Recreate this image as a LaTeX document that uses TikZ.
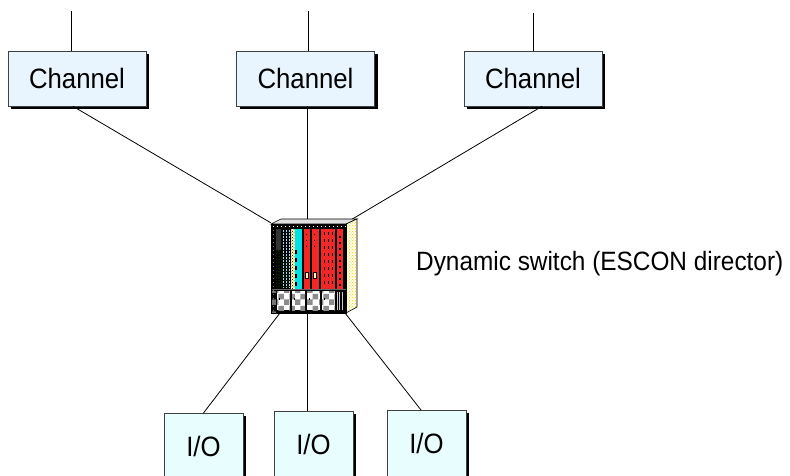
\documentclass[tikz,border=0pt]{standalone}
\usepackage{fontspec}
\newfontfamily\lbl{Liberation Sans}[FakeStretch=0.92]
\usetikzlibrary{shadows,patterns}

\definecolor{chanfill}{RGB}{233,245,254}
\definecolor{iofill}{RGB}{232,253,253}
\definecolor{cardred}{RGB}{240,40,40}
\definecolor{cardcyan}{RGB}{0,225,230}
\definecolor{sidedots}{RGB}{215,215,30}

\tikzset{
  boxshadow/.style={drop shadow={shadow xshift=3pt, shadow yshift=-3pt, fill=black, opacity=1}},
  labelfont/.style={font={\lbl\fontsize{28pt}{33pt}\selectfont}},
  chanbox/.style={draw=black!75, line width=0.6pt, fill=chanfill, minimum width=138pt,
    minimum height=55pt, inner sep=0pt, boxshadow, labelfont},
  iobox/.style={draw=black!75, line width=0.6pt, fill=iofill, minimum width=79pt,
    minimum height=67pt, inner sep=0pt, boxshadow, labelfont},
  link/.style={draw=black, line width=0.8pt},
  redcard/.style={fill=cardred},
  checker/.style={pattern=checkerboard, pattern color=black!45},
}

\begin{document}
\begin{tikzpicture}[x=1pt,y=-1pt]
  \clip (0,0) rectangle (790,476);
  \fill[white] (0,0) rectangle (790,476);

  % channels
  \node[chanbox] (ch1) at (77,78.5) {Channel};
  \node[chanbox] (ch2) at (305.5,78.5) {Channel};
  \node[chanbox] (ch3) at (533,78.5) {Channel};

  % I/O control units
  \node[iobox, anchor=north] (io1) at (203.5,413) {I/O};
  \node[iobox, anchor=north] (io2) at (313.5,411) {I/O};
  \node[iobox, anchor=north] (io3) at (426.5,410) {I/O};

  % switch front face (used as anchor for the links)
  \node[minimum width=75pt, minimum height=89pt, inner sep=0pt] (sw) at (308.5,268.5) {};

  % upstream links
  \coordinate (up1) at (71,11);
  \coordinate (up2) at (308,11);
  \coordinate (up3) at (533,13);
  \draw[link] (up1) -- ([xshift=-6pt]ch1.north);
  \draw[link] (up2) -- ([xshift=2.5pt]ch2.north);
  \draw[link] (up3) -- (ch3.north);

  % channel to switch
  \draw[link] ([xshift=-4pt]ch1.south) -- ([yshift=1pt]sw.north west);
  \draw[link] ([xshift=1.5pt]ch2.south) -- ([xshift=-1.5pt]sw.north);
  \draw[link] ([xshift=9pt]ch3.south) -- ([xshift=1.5pt,yshift=2pt]sw.north east);

  % switch to I/O
  \draw[link] ([xshift=9pt]sw.south west) -- (io1.north);
  \draw[link] ([xshift=-1.5pt]sw.south) -- ([xshift=-6.5pt]io2.north);
  \draw[link] ([xshift=-1pt]sw.south east) -- ([xshift=-5.5pt]io3.north);

  % ---- switch cabinet ----
  % body
  \fill[black] (271,224) rectangle (346,313);
  % top face
  \filldraw[fill=black!12, draw=black, line width=0.6pt]
    (271,224) -- (281,219) -- (357,219) -- (346,224) -- cycle;
  % side face
  \fill[white!90!yellow] (346,224) -- (357,219) -- (357,307) -- (346,313) -- cycle;
  \fill[pattern=crosshatch dots, pattern color=sidedots] (346,224) -- (357,219) -- (357,307) -- (346,313) -- cycle;
  \draw[black, line width=0.6pt] (346,224) -- (357,219) -- (357,307) -- (346,313);
  % top rail rivets
  \foreach \x in {273,277,...,345} \fill[white] (\x,225.6) rectangle ++(1.2,1.2);
  \foreach \y in {230,234,...,310} \fill[black!55] (272.5,\y) rectangle ++(1,1);
  % card slots
  \fill[pattern=dots, pattern color=green!70!black] (276,250) rectangle (282,288);
  \fill[black!80] (276,229) rectangle (281,250);
  \foreach \x in {283.5,286.5,289.5}
    \draw[cyan!40!white, line width=0.5pt, dash pattern=on 1.5pt off 1.5pt] (\x,230) -- (\x,288);
  \fill[pattern=dots, pattern color=green!70!black] (283,255) rectangle (290,288);
  \fill[white!75!yellow] (291,229) rectangle (295,289);
  \fill[pattern=crosshatch dots, pattern color=black] (291,229) rectangle (295,289);
  % cyan card
  \fill[cardcyan] (295,229) rectangle (302,289);
  \foreach \y in {250,258,266,274,282} \fill[black] (295,\y) rectangle ++(2,4);
  % red cards
  \fill[redcard] (304,229) rectangle (310,289);
  \fill[redcard] (312,229) rectangle (319,289);
  \fill[redcard] (321,229) rectangle (335,289);
  \fill[redcard] (337,229) rectangle (343,289);
  \foreach \x in {324,328,332} \draw[black, line width=0.6pt, dash pattern=on 3pt off 4pt] (\x,232) -- (\x,288);
  \foreach \y in {236,242,...,284} \fill[black] (339,\y) rectangle ++(1.5,1.5);
  \foreach \y in {234,240,246} \fill[black] (306,\y) rectangle ++(1.2,1.2);
  \foreach \y in {234,240,246} \fill[black] (314,\y) rectangle ++(1.2,1.2);
  \filldraw[fill=white!80!yellow, draw=black, line width=0.4pt] (305.5,272) rectangle (308,278);
  \filldraw[fill=white!80!yellow, draw=black, line width=0.4pt] (313.5,272) rectangle (316,278);
  % lower shelf
  \draw[black!60, line width=0.6pt] (271,289.5) -- (346,289.5);
  \fill[pattern=checkerboard, pattern color=black!55] (271.5,291) rectangle (276,312);
  \foreach \x in {277,292,307,322} {
    \fill[white] (\x,291) rectangle ++(13,19);
    \fill[checker] (\x,291) rectangle ++(13,19);
    \fill[black] (\x+1.5,298) rectangle ++(1.5,1.5);
  }
  \foreach \x in {336.5,339,341.5} \fill[black!20] (\x,292) rectangle ++(1.2,18);
  % edges of the body
  \draw[black, line width=0.6pt] (271,224) rectangle (346,313);

  % label
  \node[anchor=base west, inner sep=0pt, font={\lbl\fontsize{26.5pt}{31pt}\selectfont}] (lbl) at (416,270)
    {Dynamic switch (ESCON director)};
\end{tikzpicture}
\end{document}
